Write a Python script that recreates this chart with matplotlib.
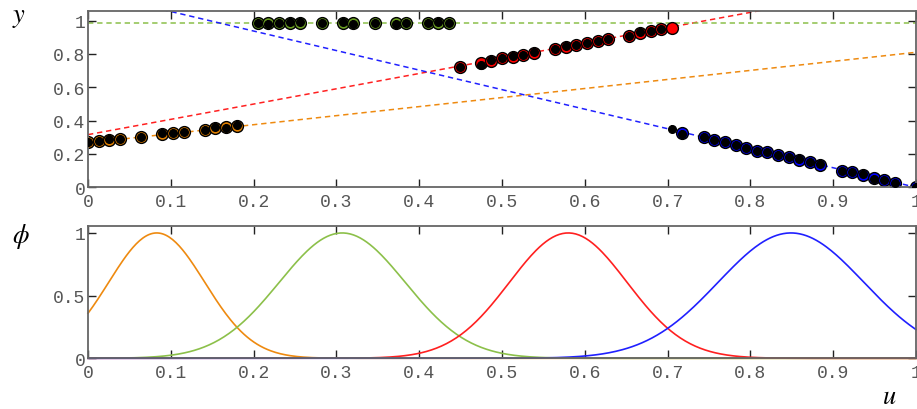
import numpy as np
import matplotlib
matplotlib.use("Agg")
import matplotlib.pyplot as plt

# --- data ---
n_grid = 78  # samples are on u = k / 78

# fitted values (coloured circles), one group per basis function
orange_k = [0, 1, 2, 3, 5, 7, 8, 9, 11, 12, 13, 14]
orange_fit = [0.270, 0.280, 0.284, 0.288, 0.300, 0.320, 0.326, 0.332, 0.342, 0.354, 0.360, 0.370]
green_k = [16, 17, 18, 19, 20, 22, 24, 25, 27, 29, 30, 32, 33, 34]
green_fit = [0.985, 0.985, 0.985, 0.985, 0.986, 0.985, 0.986, 0.985, 0.985, 0.985, 0.985, 0.985, 0.985, 0.985]
red_k = [35, 37, 38, 39, 40, 41, 42, 44, 45, 46, 47, 48, 49, 51, 52, 53, 54, 55]
red_fit = [0.723, 0.744, 0.760, 0.774, 0.783, 0.792, 0.807, 0.831, 0.843, 0.852, 0.864, 0.879, 0.888,
           0.908, 0.924, 0.936, 0.948, 0.956]
blue_k = [56, 58, 59, 60, 61, 62, 63, 64, 65, 66, 67, 68, 69, 71, 72, 73, 74, 75, 76, 78]
blue_fit = [0.326, 0.300, 0.284, 0.270, 0.256, 0.238, 0.220, 0.210, 0.196, 0.180, 0.164, 0.150, 0.134,
            0.100, 0.090, 0.074, 0.054, 0.042, 0.026, 0.0]

# observations (black points with error bars)
obs_k = orange_k + green_k + red_k[:-1] + [55] + blue_k
obs_y = [0.272, 0.275, 0.287, 0.291, 0.302, 0.323, 0.328, 0.333, 0.344, 0.360, 0.357, 0.375,
         0.988, 0.982, 0.987, 0.990, 0.993, 0.988, 0.992, 0.980, 0.985, 0.982, 0.987, 0.985, 0.990, 0.987,
         0.720, 0.735, 0.762, 0.778, 0.785, 0.795, 0.810, 0.832, 0.850, 0.852, 0.866, 0.878, 0.890,
         0.905, 0.930, 0.936, 0.950,
         0.352, 0.322, 0.303, 0.282, 0.272, 0.255, 0.235, 0.218, 0.212, 0.195, 0.182, 0.170, 0.152, 0.140,
         0.098, 0.092, 0.078, 0.052, 0.046, 0.025, 0.0]
obs_err = [0.024] * len(obs_y)

# straight-line fits (u, y end points)
line_u = [0.0, 1.0]
orange_line = [0.267, 0.810]
red_line = [0.316, 1.233]
green_line = [0.986, 0.986]
blue_line = [1.172, 0.0]

# gaussian basis functions: centre and width
phi_centre = [0.083, 0.307, 0.580, 0.849]
phi_width = [0.058, 0.076, 0.071, 0.088]

x_ticks = [0, 0.1, 0.2, 0.3, 0.4, 0.5, 0.6, 0.7, 0.8, 0.9, 1]
x_labels = ['0', '0.1', '0.2', '0.3', '0.4', '0.5', '0.6', '0.7', '0.8', '0.9', '1']
y1_ticks = [0, 0.2, 0.4, 0.6, 0.8, 1]
y1_labels = ['0', '0.2', '0.4', '0.6', '0.8', '1']
y2_ticks = [0, 0.5, 1]
y2_labels = ['0', '0.5', '1']

# colours
c_orange, c_green, c_red, c_blue = '#e07f00', '#6a9e22', '#ff0000', '#0000ff'
l_orange, l_green, l_red, l_blue = '#ee8a10', '#8cc04a', '#ff2020', '#2020ff'

plt.rcParams['mathtext.fontset'] = 'stix'

fig = plt.figure(figsize=(9.17, 4.10), dpi=100)
W, H = 917, 410
ax1 = fig.add_axes([88 / W, 1 - 188.3 / H, 828 / W, 176 / H])
ax2 = fig.add_axes([88 / W, 1 - 359.3 / H, 828 / W, 132 / H])

u_obs = np.array(obs_k) / n_grid

# top panel
for ys, col in [(orange_line, l_orange), (red_line, l_red), (green_line, l_green), (blue_line, l_blue)]:
    ax1.plot(line_u, ys, color=col, lw=1.1, dashes=(3.5, 2.5), zorder=1)

for ks, fit, col in [(orange_k, orange_fit, c_orange), (green_k, green_fit, c_green),
                     (red_k, red_fit, c_red), (blue_k, blue_fit, c_blue)]:
    ax1.plot(np.array(ks) / n_grid, fit, 'o', ms=8.5, mfc=col, mec='black', mew=1.0,
             linestyle='none', zorder=2)

ax1.errorbar(u_obs, obs_y, yerr=obs_err, fmt='o', ms=5.5, color='black', mfc='black',
             mec='black', elinewidth=1.4, capsize=0, zorder=3)

ax1.set_xlim(0, 1)
ax1.set_ylim(0, 1.056)
ax1.set_yticks(y1_ticks)
ax1.set_yticklabels(y1_labels)

# bottom panel
uu = np.linspace(0, 1, 500)
for c, w, col in zip(phi_centre, phi_width, [l_orange, l_green, l_red, l_blue]):
    ax2.plot(uu, np.exp(-(uu - c) ** 2 / (2 * w ** 2)), color=col, lw=1.2, clip_on=False)

ax2.set_xlim(0, 1)
ax2.set_ylim(0, 1.053)
ax2.set_yticks(y2_ticks)
ax2.set_yticklabels(y2_labels)

for ax in (ax1, ax2):
    ax.set_xticks(x_ticks)
    ax.set_xticklabels(x_labels)
    ax.tick_params(direction='in', length=6, width=1.0, color='#222', top=True, right=True,
                   labelcolor='#555', labelsize=13, pad=4)
    for lab in ax.get_xticklabels() + ax.get_yticklabels():
        lab.set_family('Liberation Mono')
    for s in ax.spines.values():
        s.set_color('#666')
        s.set_linewidth(1.3)
ax1.tick_params(axis='y', pad=2)
ax2.tick_params(axis='y', pad=2)

fig.text(12 / W, 1 - 17 / H, r'$y$', fontsize=19, ha='left', va='center')
fig.text(12 / W, 1 - 237 / H, r'$\phi$', fontsize=19, ha='left', va='center')
fig.text(882 / W, 1 - 397 / H, r'$u$', fontsize=19, ha='left', va='center')

fig.savefig('out.png', dpi=100)
